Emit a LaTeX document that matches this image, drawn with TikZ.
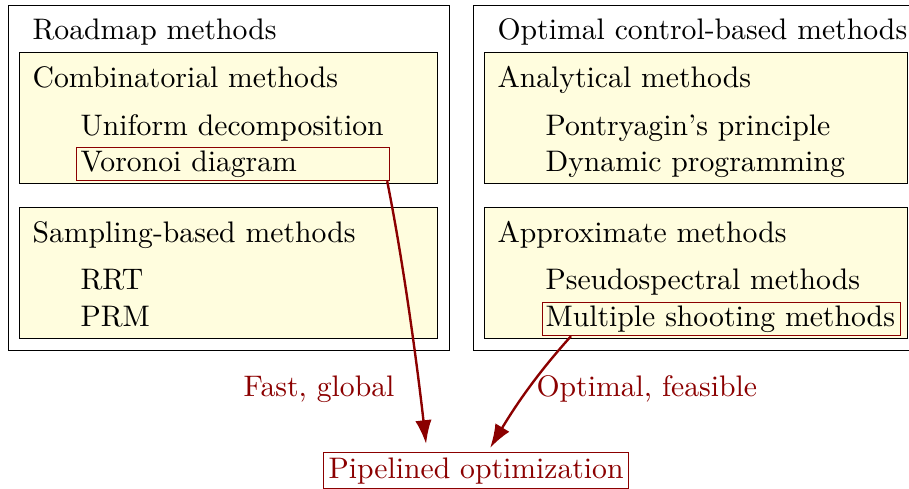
\documentclass[tikz,border=0pt]{standalone}
\usetikzlibrary{arrows.meta,calc}
\definecolor{dred}{RGB}{139,0,0}
\definecolor{boxyel}{RGB}{255,253,222}
\newcommand\pxu{0.3367pt}
\begin{document}
\begin{tikzpicture}[x=0.3367pt,y=-0.3367pt,
  lbl/.style={anchor=base west,inner sep=0pt},
  outerbox/.style={draw=black,line width=0.45pt,anchor=north west,inner sep=0pt,minimum height=345*\pxu},
  innerbox/.style={draw=black,line width=0.45pt,fill=boxyel,anchor=north west,inner sep=0pt,minimum height=131*\pxu},
  hilite/.style={draw=dred,line width=0.4pt,anchor=north west,inner ysep=0pt,minimum height=33*\pxu,align=left},
  arrowsty/.style={draw=dred,line width=0.8pt,-{Latex[length=8pt,width=5.5pt]}},
  redtext/.style={text=dred,inner sep=0pt}]
\useasboundingbox (0,0) rectangle (909,489);
\clip (0,0) rectangle (909,489);
% outer boxes
\node[outerbox,minimum width=441*\pxu] (roadmap) at (8,5) {};
\node[outerbox,minimum width=447*\pxu] (optctrl) at (473,5) {};
% inner boxes
\node[innerbox,minimum width=418*\pxu] (comb) at (19,52) {};
\node[innerbox,minimum width=418*\pxu] (samp) at (19,207) {};
\node[innerbox,minimum width=423*\pxu] (anal) at (484,52) {};
\node[innerbox,minimum width=423*\pxu] (approx) at (484,207) {};
% left texts
\node[lbl] (t1) at (32,40) {Roadmap methods};
\node[lbl] (t2) at (32,88) {Combinatorial methods};
\node[lbl] (t3) at (80,136) {Uniform decomposition};
\node[hilite,inner xsep=4*\pxu,text width=305*\pxu] (vor) at (76,147) {Voronoi diagram};
\node[lbl] (t5) at (32,243) {Sampling-based methods};
\node[lbl] (t6) at (80,290) {RRT};
\node[lbl] (t7) at (80,327) {PRM};
% right texts
\node[lbl] (r1) at (497,40) {Optimal control-based methods};
\node[lbl] (r2) at (497,88) {Analytical methods};
\node[lbl] (r3) at (545,136) {Pontryagin's principle};
\node[lbl] (r4) at (545,172) {Dynamic programming};
\node[lbl] (r5) at (497,243) {Approximate methods};
\node[lbl] (r6) at (545,290) {Pseudospectral methods};
\node[hilite,inner xsep=3*\pxu,text width=352*\pxu] (multi) at (542,302) {Multiple shooting methods};
% bottom
\node[draw=dred,line width=0.4pt,text=dred,anchor=north west,inner sep=0pt,minimum width=305*\pxu,minimum height=36*\pxu] (pipe) at (323,452) {Pipelined optimization};
\node[redtext,anchor=base east] (fast) at (395,397) {Fast, global};
\node[redtext,anchor=base west] (opt) at (536,397) {Optimal, feasible};
% arrows
\draw[arrowsty] ($(vor.south east)+(-3,0)$) .. controls +(16,80) and +(-9,-80) .. ($(pipe.north)+(-50,-8)$);
\draw[arrowsty] ($(multi.south west)+(29,0)$) .. controls +(-36,40) and +(24,-40) .. ($(pipe.north)+(14,-4)$);
\end{tikzpicture}
\end{document}
